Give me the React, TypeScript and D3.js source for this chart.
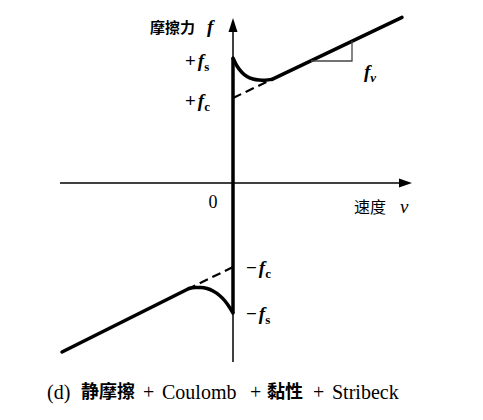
import * as d3 from "d3"

// friction characteristic (velocity v, friction f)
const posCurveV = [0, 0.4, 0.9, 1.4, 2, 2.6, 3.2, 3.9]
const posCurveF = [12.5, 11.7, 11.05, 10.65, 10.4, 10.3, 10.28, 10.36]
const posLineV = [3.9, 16.9]
const posLineF = [10.36, 16.56]
const negCurveV = [-4.4, -3.8, -3.2, -2.6, -2, -1.4, -0.8, -0.3, 0]
const negCurveF = [-10.55, -10.45, -10.45, -10.55, -10.8, -11.2, -11.8, -12.5, -13.0]
const negLineV = [-17.1, -4.4]
const negLineF = [-16.9, -10.55]
const posDashV = [0, 3.9]
const posDashF = [8.5, 10.36]
const negDashV = [0, -4.4]
const negDashF = [-8.4, -10.55]
const slopeV = [7.8, 11.9]
const slopeF = [12.2, 14.2]
const levels = { fs: 12.5, fc: 8.5, nfc: -8.4, nfs: -13.0 }

const W = 483
const H = 420

export default function App() {
  const x = d3.scaleLinear().domain([-17.3, 17.7]).range([60, 410])
  const y = d3.scaleLinear().domain([-17.9, 16.3]).range([362, 20])

  const zip = (a: number[], b: number[]) => a.map((v, i) => [v, b[i]] as [number, number])
  const straight = d3
    .line<[number, number]>()
    .x((d) => x(d[0]))
    .y((d) => y(d[1]))
  const smooth = d3
    .line<[number, number]>()
    .x((d) => x(d[0]))
    .y((d) => y(d[1]))
    .curve(d3.curveMonotoneX)

  const x0 = x(0)
  const y0 = y(0)
  const serif = "'Liberation Serif', 'DejaVu Serif', serif"
  const cjk = "'Noto Sans CJK SC', sans-serif"

  const sub = (letter: string, s: string, px: number, py: number, sign = "") => (
    <text x={px} y={py} fontFamily={serif} fontSize={19} fontWeight="bold">
      {sign}
      <tspan fontStyle="italic" dx={sign ? 2 : 0}>{letter}</tspan>
      <tspan fontSize={13} dy={4} fontStyle={s === "v" ? "italic" : "normal"}>{s}</tspan>
    </text>
  )

  const thick = { fill: "none", stroke: "#000", strokeWidth: 3.5, strokeLinecap: "round" as const }
  const dashed = { fill: "none", stroke: "#000", strokeWidth: 2.2, strokeDasharray: "9,5" }

  return (
    <svg width={W} height={H} style={{ position: "absolute", left: 0, top: 0, background: "#fff" }}>
      {/* axes */}
      <line x1={60} x2={402} y1={y0} y2={y0} stroke="#000" strokeWidth={1.5} />
      <path d={`M${412},${y0} L${399},${y0 - 4.5} L${399},${y0 + 4.5} Z`} fill="#000" />
      <line x1={x0} x2={x0} y1={30} y2={362} stroke="#000" strokeWidth={1.5} />
      <path d={`M${x0},${18} L${x0 - 4.5},${32} L${x0 + 4.5},${32} Z`} fill="#000" />

      {/* static friction jump */}
      <line x1={x0} x2={x0} y1={y(levels.fs)} y2={y(levels.nfs)} stroke="#000" strokeWidth={3.5} />

      {/* dashed coulomb + viscous extensions */}
      <path d={straight(zip(posDashV, posDashF)) || ""} {...dashed} />
      <path d={straight(zip(negDashV, negDashF)) || ""} {...dashed} />

      {/* stribeck curves and viscous lines */}
      <path d={smooth(zip(posCurveV, posCurveF)) || ""} {...thick} />
      <path d={straight(zip(posLineV, posLineF)) || ""} {...thick} />
      <path d={smooth(zip(negCurveV, negCurveF)) || ""} {...thick} />
      <path d={straight(zip(negLineV, negLineF)) || ""} {...thick} />

      {/* slope triangle */}
      <path
        d={`M${x(slopeV[0])},${y(slopeF[0])} L${x(slopeV[1])},${y(slopeF[0])} L${x(slopeV[1])},${y(slopeF[1])}`}
        fill="none"
        stroke="#444"
        strokeWidth={1.3}
      />
      {sub("f", "v", 364, 78)}

      {/* labels */}
      <text x={150} y={33} fontFamily={cjk} fontSize={15} fontWeight="bold">摩擦力</text>
      <text x={207} y={33} fontFamily={serif} fontSize={19} fontStyle="italic" fontWeight="bold">f</text>
      {sub("f", "s", 185, y(levels.fs) + 9, "+")}
      {sub("f", "c", 185, y(levels.fc) + 9, "+")}
      {sub("f", "c", 246, y(levels.nfc) + 7, "−")}
      {sub("f", "s", 246, y(levels.nfs) + 7, "−")}
      <text x={213} y={208} fontFamily={serif} fontSize={18} textAnchor="middle">0</text>
      <text x={354} y={213} fontFamily={cjk} fontSize={16}>速度</text>
      <text x={400} y={213} fontFamily={serif} fontSize={19} fontStyle="italic">v</text>

      {/* caption */}
      <g fontFamily={serif} fontSize={20}>
        <text x={47} y={399}>(d)</text>
        <text x={81} y={398} fontFamily={cjk} fontWeight="bold" fontSize={18}>静摩擦</text>
        <text x={143} y={399}>+</text>
        <text x={162} y={399}>Coulomb</text>
        <text x={250} y={399}>+</text>
        <text x={267} y={398} fontFamily={cjk} fontWeight="bold" fontSize={18}>黏性</text>
        <text x={313} y={399}>+</text>
        <text x={332} y={399}>Stribeck</text>
      </g>
    </svg>
  )
}
